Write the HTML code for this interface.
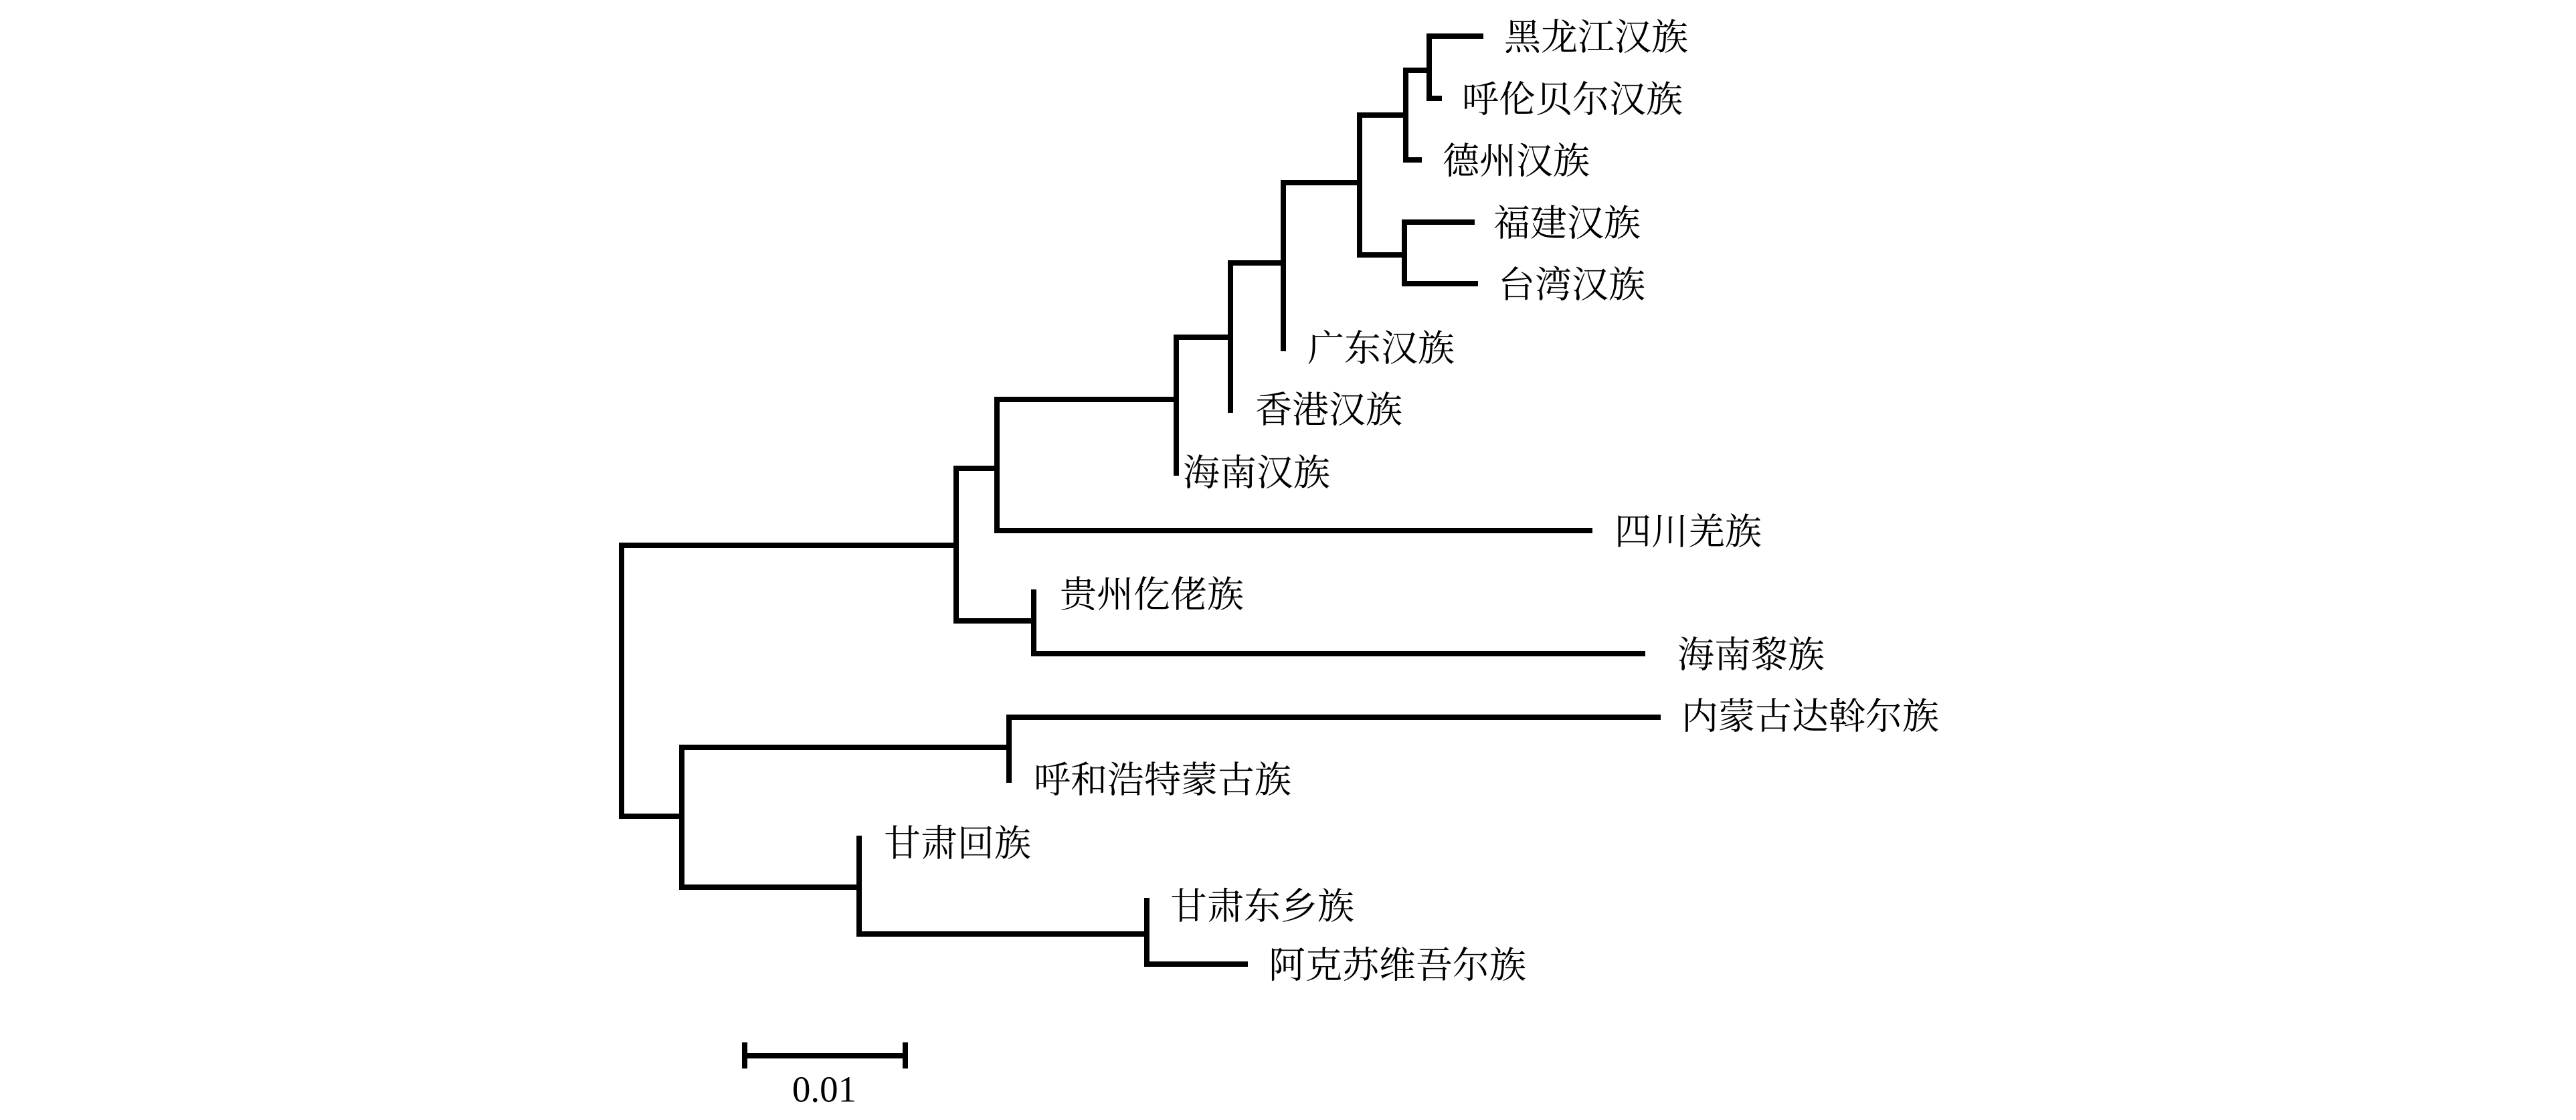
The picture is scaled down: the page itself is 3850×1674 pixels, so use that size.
<!DOCTYPE html>
<html><head><meta charset="utf-8"><style>
html,body{margin:0;padding:0;background:#fff;}
svg{display:block;}
text{font-family:"Liberation Serif","Noto Serif CJK SC",serif;font-size:55px;fill:#000;dominant-baseline:central;}
</style></head><body>
<svg width="3850" height="1674" viewBox="0 0 3850 1674" xmlns="http://www.w3.org/2000/svg">
<g stroke="#000" stroke-width="8" fill="none" stroke-linecap="square">
<!-- root -->
<path d="M1429 815 H929 V1220 H1019"/>
<!-- upper clade -->
<path d="M1429 700 V928"/>
<path d="M1429 700 H1490 M1490 597 V793 M1490 793 H2376"/>
<path d="M1490 597 H1758 M1758 504 V707"/>
<path d="M1758 504 H1839 M1839 393 V613"/>
<path d="M1839 393 H1918 M1918 273 V521"/>
<path d="M1918 273 H2032 M2032 172 V381"/>
<path d="M2032 172 H2101 M2101 105 V239 H2121"/>
<path d="M2101 105 H2136 M2136 54 V147 M2136 54 H2213 M2136 147 H2151"/>
<path d="M2032 381 H2099 M2099 332 V424 M2099 332 H2200 M2099 424 H2205"/>
<path d="M1429 928 H1545 M1545 885 V977 H2455"/>
<!-- lower clade -->
<path d="M1019 1117 V1326"/>
<path d="M1019 1117 H1508 M1508 1072 V1166 M1508 1072 H2478"/>
<path d="M1019 1326 H1284 M1284 1253 V1396"/>
<path d="M1284 1396 H1714 M1714 1346 V1441 H1861"/>
<!-- scale -->
<path d="M1113 1578 H1353"/>
<path d="M1113 1562 V1593 M1353 1562 V1593"/>
</g>
<text x="2248" y="56">黑龙江汉族</text>
<text x="2185" y="149">呼伦贝尔汉族</text>
<text x="2156" y="241">德州汉族</text>
<text x="2232" y="334">福建汉族</text>
<text x="2239" y="426">台湾汉族</text>
<text x="1954" y="521">广东汉族</text>
<text x="1876" y="613">香港汉族</text>
<text x="1768" y="707">海南汉族</text>
<text x="2413" y="795">四川羌族</text>
<text x="1584" y="889">贵州仡佬族</text>
<text x="2507" y="979">海南黎族</text>
<text x="2513" y="1071">内蒙古达斡尔族</text>
<text x="1545" y="1166">呼和浩特蒙古族</text>
<text x="1321" y="1261">甘肃回族</text>
<text x="1749" y="1355">甘肃东乡族</text>
<text x="1896" y="1443">阿克苏维吾尔族</text>
<text x="1232" y="1628" text-anchor="middle">0.01</text>
</svg>
</body></html>
